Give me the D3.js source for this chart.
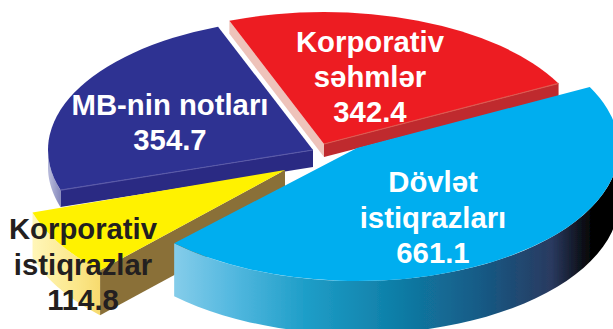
<!DOCTYPE html>
<html><head><meta charset="utf-8">
<script src="https://cdn.jsdelivr.net/npm/d3@7"></script>
<style>html,body{margin:0;padding:0;background:#fff;overflow:hidden}svg{display:block}
text{font-family:"Liberation Sans",Arial,sans-serif;font-weight:700;text-anchor:middle}</style>
</head><body><svg id="c" width="613" height="329"></svg>
<script>
const categories = [["Korporativ","səhmlər"],["Dövlət","istiqrazları"],["Korporativ","istiqrazlar"],["MB-nin notları"]];
const values = [342.4, 661.1, 114.8, 354.7];

// layout of the exploded, tilted pie (one entry per slice)
const centers = [[324,144],[357,148],[285,170],[313,150]];
const radii = [[264,132],[262,133],[265,140],[265,132]];
const depths = [13,53,45,17];
const topColors = ["#ed1c24","#00aeef","#fff200","#2e3192"];
const startWall = ["#eec3ba",null,"#8a7038","#2b2a83"]; // wall under first cut edge
const endWall = ["#bf2a2f",null,null,null];
const labelPos = [[370,[52,87,122]],[433,[192,228,263]],[83,[239,275,310]],[170,[115,150]]];
const labelColor = ["#fff","#fff","#231f20","#fff"];
const drawOrder = [3,0,2,1];

const svg = d3.select("#c");
const defs = svg.append("defs");
function grad(id, x1, x2, stops){
  const g = defs.append("linearGradient").attr("id",id).attr("gradientUnits","userSpaceOnUse")
    .attr("x1",x1).attr("x2",x2).attr("y1",0).attr("y2",0);
  stops.forEach(([o,c])=>g.append("stop").attr("offset",o).attr("stop-color",c));
}
grad("wallBlue",173,613,[[0,"#86cdea"],[.13,"#55b9e0"],[.3,"#1e9ec8"],[.5,"#0f7fa8"],[.7,"#155a85"],[.86,"#2a3a60"],[.95,"#050505"],[1,"#000"]]);
grad("wallYellow",33,105,[[0,"#fff6b8"],[.6,"#fbe78a"],[1,"#f6d868"]]);
grad("wallNavy",50,66,[[0,"#b3b6d8"],[1,"#6d70ad"]]);
defs.append("filter").attr("id","soft").append("feGaussianBlur").attr("stdDeviation",0.5);
const outerWall = [null,"url(#wallBlue)","url(#wallYellow)","url(#wallNavy)"];

const rad = d => d*Math.PI/180;
const pie = d3.pie().sort(null).startAngle(rad(-21)).endAngle(rad(339));
const slices = pie(values);
const arc = d3.arc().innerRadius(0);
const line = d3.line();
const marks = svg.append("g").attr("filter","url(#soft)");

function pt(i,a,dy=0){
  const [cx,cy]=centers[i],[rx,ry]=radii[i];
  return [cx+rx*Math.sin(a), cy-ry*Math.cos(a)+dy];
}
drawOrder.forEach(i=>{
  const s=slices[i],[cx,cy]=centers[i],[rx,ry]=radii[i],h=depths[i];
  const g=marks.append("g");
  const cut=(a,fill)=>{ if(!fill) return;
    g.append("path").attr("fill",fill)
     .attr("d",line([[cx,cy],pt(i,a),pt(i,a,h),[cx,cy+h]])+"Z");
  };
  cut(s.startAngle,startWall[i]);
  cut(s.endAngle,endWall[i]);
  // curved outer wall: only the part that faces the viewer
  const a0=Math.max(s.startAngle,Math.PI/2), a1=Math.min(s.endAngle,Math.PI*1.5);
  if(outerWall[i] && a1>a0){
    const as=d3.range(0,41).map(k=>a0+(a1-a0)*k/40);
    const pts=as.map(a=>pt(i,a)).concat(as.slice().reverse().map(a=>pt(i,a,h)));
    g.append("path").attr("fill",outerWall[i]).attr("d",line(pts)+"Z");
  }
  g.append("path").attr("fill",topColors[i])
   .attr("transform",`translate(${cx},${cy}) scale(1,${ry/rx})`)
   .attr("d",arc({startAngle:s.startAngle,endAngle:s.endAngle,outerRadius:rx}));
  // light rims on the front cut edges
  if(i===0||i===3){
    const a=i===0?s.endAngle:s.startAngle;
    g.append("path").attr("fill","none").attr("stroke",i===0?"#dc5a50":"#5a5aa8").attr("stroke-width",1.2)
     .attr("d",line([pt(i,a),[cx,cy]]));
  }
});
categories.forEach((lines,i)=>{
  const [x,ys]=labelPos[i];
  lines.concat([d3.format(".1f")(values[i])]).forEach((t,j)=>{
    svg.append("text").attr("x",x).attr("y",ys[j]).attr("font-size",29.3)
       .attr("fill",labelColor[i]).text(t);
  });
});
</script></body></html>
